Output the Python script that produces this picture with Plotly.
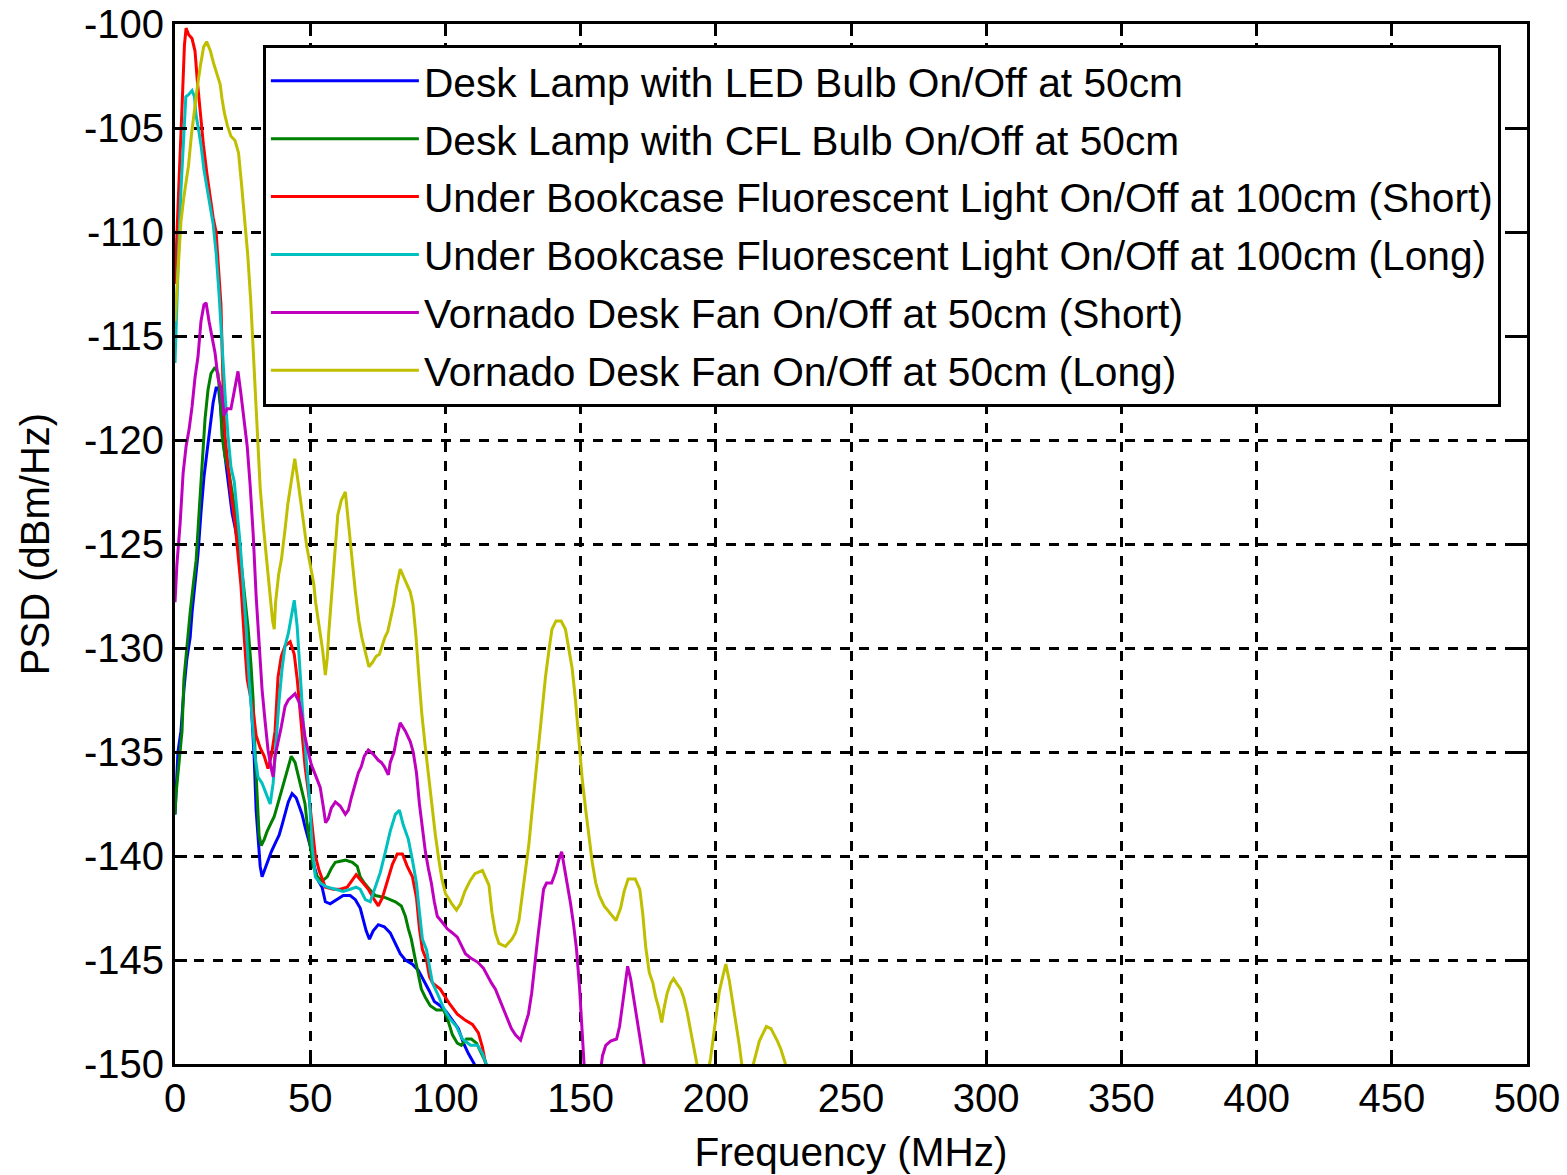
import plotly.graph_objects as go

# ---------------- data (frequency in MHz, PSD in dBm/Hz) ----------------
led_freq = [0, 0.4, 1.1, 2.2, 3.3, 4.4, 5.6, 6.3, 7.4, 8.5, 9.6, 10.7, 11.9, 13.0, 14.1, 15.2, 16.1, 17.0,
            17.8, 18.9, 20.0, 21.1, 22.2, 23.3, 24.8, 26.3, 27.4, 28.5, 29.3, 30.0, 30.7, 31.5, 32.2, 33.0,
            34.1, 35.6, 37.0, 38.5, 39.6, 40.7, 41.9, 43.3, 44.8, 45.9, 47.0, 48.1, 49.3, 50.4, 51.5, 53.0,
            54.4, 55.6, 57.4, 59.6, 62.2, 64.8, 66.7, 68.5, 69.6, 70.7, 71.9, 73.3, 75.2, 77.4, 79.6, 81.5,
            83.3, 85.2, 87.8, 90.0, 92.2, 94.1, 95.9, 98.1, 100.4, 102.6, 104.8, 106.7, 108.5, 110.7, 111.5, 113]
led_psd = [-138, -137, -135, -134, -132, -130.5, -129.5, -128.3, -127, -125.5, -123.5, -121.8, -120.5, -119.3,
           -118.2, -117.5, -117.5, -118.6, -120, -121.2, -122.5, -123.5, -124.2, -125, -127, -128.8, -130.8,
           -133.5, -135.3, -137.8, -139, -140.5, -141, -140.7, -140.3, -139.8, -139.4, -139, -138.5, -138,
           -137.4, -137, -137.2, -137.6, -138, -138.6, -139.2, -139.7, -140.5, -141.2, -141.5, -142.2, -142.3,
           -142.1, -141.9, -141.9, -142.1, -142.5, -143, -143.6, -144, -143.6, -143.3, -143.4, -143.7, -144.2,
           -144.7, -145, -145.2, -145.5, -146, -146.5, -147, -147.2, -147.5, -147.9, -148.3, -149, -149.5,
           -150, -150.5, -152]

cfl_freq = [0, 0.4, 1.5, 2.6, 3.3, 4.4, 5.6, 6.7, 7.8, 8.9, 10, 11.1, 12.2, 13.3, 14.8, 15.9, 16.7, 17.4, 18.5,
            20, 21.5, 22.6, 23.7, 24.8, 25.9, 27, 28.1, 28.9, 29.6, 30.4, 31.1, 31.9, 33, 34.1, 35.6, 36.7,
            37.8, 38.9, 40.4, 41.9, 43, 44.4, 45.9, 47, 48.1, 48.9, 50, 51.1, 52.6, 54.4, 56.3, 57.8, 59.3, 63,
            65.6, 67.4, 68.5, 70, 71.9, 74.1, 77.8, 81.5, 83.7, 85.2, 86.3, 87.4, 88.9, 90, 91.1, 92.6, 94.4,
            96.7, 99.3, 100.7, 102.6, 104.4, 105.9, 107.8, 109.6, 111.5, 113, 114.8, 115.9, 117.5]
cfl_psd = [-138, -137, -135.5, -134, -131.5, -129.8, -128.3, -127, -125.8, -123.5, -121.2, -119, -117.6, -116.8,
           -116.5, -116.8, -118, -119.8, -120.8, -121.6, -122.8, -123.7, -125, -126.3, -127.6, -129, -130.8,
           -132.5, -135, -137.5, -139, -139.5, -139.2, -138.8, -138.4, -138.1, -137.6, -137.1, -136.5, -135.8,
           -135.2, -135.5, -136.3, -137, -137.5, -138.5, -139.5, -140.5, -141, -141.2, -141, -140.6, -140.3,
           -140.2, -140.3, -140.5, -141, -141.3, -141.6, -141.9, -142, -142.2, -142.4, -142.9, -143.5, -144,
           -145, -145.8, -146.4, -146.8, -147.2, -147.4, -147.4, -147.8, -148.6, -149, -149.1, -148.8, -148.8,
           -149, -149.4, -149.9, -150.3, -152]

fluor_short_freq = [0, 0.5, 1.5, 2.6, 3.5, 4.1, 5.0, 6.3, 7.4, 8.3, 9.4, 10.5, 11.8, 13.1, 14.1, 15.2, 16.3, 17.0,
                    17.8, 18.5, 19.6, 20.7, 22.2, 23.3, 24.4, 25.6, 26.7, 28.9, 30.0, 31.5, 33.0, 34.4, 35.6,
                    37.0, 38.1, 39.3, 40.7, 42.6, 44.1, 45.2, 46.7, 48.1, 49.6, 50.7, 51.9, 53.3, 55.6, 58.5,
                    61.1, 63.7, 65.2, 67.0, 69.6, 71.5, 73.7, 75.2, 76.7, 78.5, 80.4, 82.2, 84.1, 85.9, 87.8,
                    89.3, 90.4, 91.5, 93.0, 94.1, 95.2, 98.1, 101.5, 104.4, 107.4, 110.0, 112.2, 113.7, 115.2, 117]
fluor_short_psd = [-112.5, -110.5, -107.5, -104, -101, -100.2, -100.5, -100.7, -101.3, -102.8, -104.5, -105.8,
                   -107.2, -108.4, -109.3, -110, -111.9, -113.5, -117.5, -119.8, -121.2, -122.6, -124, -125.4,
                   -127, -129.5, -131.5, -133, -134.2, -134.8, -135.2, -135.8, -135.2, -134, -131.4, -130.4,
                   -129.9, -129.7, -130.3, -131.5, -133.9, -135.7, -137.2, -138.6, -140, -140.7, -141.5, -141.6,
                   -141.6, -141.5, -141.2, -140.9, -141.3, -141.6, -142.1, -142.4, -142, -141.2, -140.4, -139.9,
                   -139.9, -140.5, -141, -142, -143.5, -144.5, -145, -145.8, -146.1, -146.4, -147.1, -147.6,
                   -147.9, -148.1, -148.5, -149.2, -150.2, -152]

fluor_long_freq = [0, 0.5, 1.3, 2.2, 3.1, 4.0, 5.0, 6.3, 7.2, 7.8, 8.5, 9.6, 10.7, 12.0, 13.3, 14.1, 15.2, 16.3,
                   17.4, 18.5, 19.6, 20.7, 21.9, 23.0, 24.1, 25.2, 26.3, 27.4, 28.5, 29.6, 30.7, 32.2, 33.7,
                   35.2, 36.3, 37.4, 38.5, 39.6, 40.7, 41.9, 43.0, 44.1, 45.2, 46.3, 47.4, 48.5, 49.6, 50.7,
                   51.9, 53.7, 56.3, 59.3, 62.2, 64.8, 67.0, 68.5, 70.4, 72.2, 74.1, 75.9, 77.8, 79.6, 81.5,
                   83.0, 84.4, 86.3, 87.8, 89.3, 90.4, 91.5, 93.0, 94.1, 95.2, 97.0, 99.3, 101.5, 104.1, 106.3,
                   109.3, 111.9, 113.7, 115.9, 117.5]
fluor_long_psd = [-116.3, -114, -111, -108, -105.7, -103.5, -103.4, -103.2, -103.5, -104.4, -104.9, -105.8,
                  -107, -108.1, -109, -109.6, -111, -113, -115.5, -117.8, -119.8, -121.3, -122, -123.5, -125,
                  -127, -129, -131.5, -133.5, -135.2, -136.2, -136.5, -137, -137.5, -136.5, -134.5, -132.5,
                  -131, -129.9, -129.3, -128.4, -127.7, -129, -131.5, -133.5, -135.3, -137, -139.5, -141,
                  -141.3, -141.5, -141.6, -141.7, -141.6, -141.5, -141.6, -142.1, -142.2, -141.5, -140.8,
                  -139.8, -138.8, -138, -137.8, -138.5, -139.2, -140.2, -141.3, -142.7, -144, -144.5, -145.3,
                  -146.1, -146.6, -147.3, -147.8, -148.2, -148.8, -149.1, -149.1, -149.5, -150.3, -152]

fan_short_freq = [0, 0.7, 1.9, 3, 4.1, 5.2, 6.3, 7.4, 8.5, 9.6, 10.7, 11.5, 12.6, 13.7, 14.8, 15.9, 17, 18.1,
                  19.3, 20.7, 21.9, 23.3, 24.4, 25.6, 26.7, 27.8, 28.9, 30, 31.1, 32.2, 33.3, 34.4, 35.6, 36.3,
                  37, 38.1, 39.3, 40.7, 41.9, 44.4, 45.9, 47, 48.1, 49.3, 50.4, 51.9, 53.7, 54.8, 55.7, 56.7,
                  57.8, 59.3, 61.1, 63, 64.1, 65.2, 66.7, 67.8, 68.9, 70, 71.5, 73.3, 75.2, 76.3, 77.4, 78.9,
                  79.6, 81.0, 82.0, 83.3, 85.2, 87, 88.1, 89.3, 90.4, 91.5, 92.6, 93.7, 94.8, 95.9, 97, 98.9,
                  100.7, 102.6, 104.4, 105.9, 107.4, 109.3, 111.9, 114.1, 115.6, 117, 118.5, 120, 121.5, 123,
                  124.4, 125.9, 127.8, 129.3, 130.7, 131.9, 133, 134.1, 135.2, 136.3, 137.4, 139.3, 140.7,
                  141.9, 143, 144.1, 145.2, 146.3, 147.4, 148.5, 149.6, 150.7, 151.5, 153.7, 156.7, 158.1,
                  159.3, 161.1, 163.3, 164.4, 165.6, 166.7, 167.4, 168.5, 169.6, 170.7, 171.9, 173, 174.1, 175.9]
fan_short_psd = [-127.8, -126, -124, -121.6, -120.3, -119.5, -118.4, -117, -116, -114.3, -113.5, -113.4, -114.3,
                 -115, -115.8, -117, -117.5, -118.8, -118.5, -118.5, -117.6, -116.7, -117.8, -119.2, -120.3,
                 -122.2, -124.5, -127.5, -130, -132, -133.5, -134.9, -135.8, -136.2, -135.2, -134.6, -133.8,
                 -132.8, -132.5, -132.2, -132.6, -133.3, -134.3, -135, -135.6, -136.1, -136.7, -137.6, -138.4,
                 -138.2, -137.7, -137.4, -137.6, -138, -137.8, -137.2, -136.5, -136, -135.7, -135.2, -134.9,
                 -135.1, -135.4, -135.5, -135.7, -136.1, -135.5, -135, -134.3, -133.6, -134, -134.5, -135, -136,
                 -137.5, -138.7, -139.8, -140.6, -141.3, -142.2, -142.9, -143.2, -143.5, -143.7, -143.9, -144.3,
                 -144.7, -144.9, -145.1, -145.4, -145.8, -146.1, -146.4, -146.9, -147.4, -147.9, -148.3, -148.6,
                 -148.85, -148.2, -147.6, -146.6, -145.2, -144, -142.8, -141.6, -141.3, -141.3, -140.8, -140.2,
                 -139.8, -140.6, -141.3, -142.3, -143.3, -144.5, -146.3, -148.8, -150.5, -152, -151, -149.6,
                 -149.1, -148.9, -148.8, -148.2, -147, -145.8, -145.3, -145.9, -146.8, -147.6, -148.5, -149.5,
                 -150.5, -152]

fan_long_freq = [0, 1.1, 2.2, 3.3, 4.1, 5.0, 6.1, 7.2, 8.3, 9.4, 10.6, 11.7, 13.1, 14.3, 15.4, 16.7, 17.4, 18.3,
                 19.4, 20.7, 22.2, 23.5, 24.6, 25.7, 26.9, 28.0, 29.1, 30.2, 31.5, 32.8, 33.9, 35.2, 36.1, 36.7,
                 37.2, 38.3, 39.4, 40.7, 41.7, 43.0, 44.3, 45.4, 46.7, 48.0, 48.7, 50.0, 51.3, 52.0, 53.3, 54.6,
                 55.6, 56.3, 56.9, 58.0, 59.3, 60.2, 61.5, 63.0, 64.3, 65.4, 66.7, 68.0, 69.1, 70.4, 71.7, 73.0,
                 74.4, 75.6, 76.5, 77.6, 78.7, 79.8, 80.9, 82.0, 83.3, 84.6, 85.7, 87.0, 88.0, 89.1, 90.2, 91.3,
                 92.6, 93.9, 95.0, 96.3, 97.6, 98.7, 100.0, 101.3, 102.4, 104.1, 105.6, 107.2, 109.1, 110.9,
                 113.7, 116.1, 117.2, 118.5, 119.8, 122.2, 124.6, 125.9, 127.2, 128.3, 129.6, 130.9, 132.0,
                 133.3, 134.6, 135.7, 137.0, 138.3, 139.4, 140.9, 142.8, 144.4, 145.7, 146.9, 148.1, 149.4,
                 150.6, 151.9, 153.1, 154.3, 155.6, 156.9, 158.7, 161.1, 163.1, 164.8, 166.1, 167.6, 170.2,
                 171.9, 173.0, 174.1, 175.4, 176.7, 177.8, 178.9, 180.0, 180.9, 182.0, 183.3, 184.4, 185.9,
                 187.0, 188.1, 189.4, 190.7, 192.0, 193.3, 195.2, 197.0, 198.1, 198.9, 200.0, 201.3, 202.4,
                 203.7, 205.0, 206.1, 207.4, 208.7, 209.8, 211.5, 213.3, 214.8, 216.1, 217.2, 218.7, 220.4,
                 221.7, 222.8, 224.1, 225.4, 226.7, 228.5]
fan_long_psd = [-114.3, -112, -109.5, -108.3, -107.5, -106.8, -105.3, -104, -103, -102, -101.1, -100.85, -101.3,
                -101.9, -102.4, -102.9, -103.6, -104.3, -104.9, -105.4, -105.6, -106.2, -107.7, -109.4, -111.1,
                -113.3, -116.2, -119.5, -122.3, -124.3, -125.8, -127.4, -128.7, -129.1, -127.8, -126.5, -125.7,
                -124.3, -123.1, -122, -120.9, -121.9, -123.1, -124.2, -125.1, -126, -126.9, -127.8, -129, -130.1,
                -131.3, -130.5, -129.2, -127.3, -125.3, -123.6, -122.9, -122.5, -124.2, -125.8, -127.3, -128.7,
                -129.5, -130.2, -130.9, -130.7, -130.4, -130.3, -129.9, -129.5, -129.2, -128.6, -127.9, -127,
                -126.2, -126.6, -126.9, -127.3, -127.9, -129.4, -131.4, -133.2, -134.8, -136.3, -137.8, -139,
                -140.2, -141.1, -141.8, -142.1, -142.3, -142.6, -142.3, -141.7, -141.2, -140.85, -140.7, -141.4,
                -142.7, -143.7, -144.2, -144.35, -144, -143.7, -143.1, -142, -140.8, -139.4, -137.9, -136.2,
                -134.4, -132.8, -131.4, -130.1, -129.1, -128.7, -128.7, -129.1, -130, -131, -132.5, -134.5,
                -136.3, -137.8, -139, -140.3, -141.3, -141.9, -142.4, -142.8, -143.1, -142.5, -141.7, -141.1,
                -141.1, -141.6, -142.8, -144.4, -145.6, -146.1, -146.8, -147.3, -148, -147.3, -146.6, -146.1,
                -145.9, -146.2, -146.4, -146.8, -147.5, -148.4, -149.3, -150.3, -151.5, -150.5, -149.7, -148.9,
                -147.7, -146.5, -145.9, -145.2, -146, -146.9, -148, -149.1, -150.2, -151.5, -150.3, -149.5,
                -148.9, -148.6, -148.2, -148.3, -148.6, -148.9, -149.3, -149.8, -150.4, -152]

series_names = [
    "Desk Lamp with LED Bulb On/Off at 50cm",
    "Desk Lamp with CFL Bulb On/Off at 50cm",
    "Under Bookcase Fluorescent Light On/Off at 100cm (Short)",
    "Under Bookcase Fluorescent Light On/Off at 100cm (Long)",
    "Vornado Desk Fan On/Off at 50cm (Short)",
    "Vornado Desk Fan On/Off at 50cm (Long)",
]
series_colors = ["#0000FF", "#008000", "#FF0000", "#00BFBF", "#BF00BF", "#BFBF00"]

x_tick_vals = [0, 50, 100, 150, 200, 250, 300, 350, 400, 450, 500]
y_tick_vals = [-100, -105, -110, -115, -120, -125, -130, -135, -140, -145, -150]
y_tick_text = ["-100", "-105", "-110", "-115", "-120", "-125", "-130", "-135", "-140", "-145", "-150"]

# ---------------- figure ----------------
series_data = [
    (led_freq, led_psd),
    (cfl_freq, cfl_psd),
    (fluor_short_freq, fluor_short_psd),
    (fluor_long_freq, fluor_long_psd),
    (fan_short_freq, fan_short_psd),
    (fan_long_freq, fan_long_psd),
]

FONT = "Arial, Liberation Sans, sans-serif"

fig = go.Figure()
for i, ((fx, fy), name, color) in enumerate(zip(series_data, series_names, series_colors)):
    n = min(len(fx), len(fy))
    fig.add_trace(go.Scatter(
        x=fx[:n], y=fy[:n], mode="lines", name=name, legendgroup=f"g{i}",
        line=dict(color=color, width=3),
    ))

axis_common = dict(
    showline=True, linecolor="black", linewidth=3, mirror="ticks",
    ticks="inside", ticklen=12, tickwidth=3, tickcolor="black",
    showgrid=True, gridcolor="black", gridwidth=3, griddash="10px,9px",
    zeroline=False, ticklabeloverflow="allow",
    tickfont=dict(family=FONT, size=40, color="black"),
)

fig.update_xaxes(
    range=[0, 500], tickvals=x_tick_vals, ticklabelstandoff=-3,
    title=dict(text="Frequency (MHz)", font=dict(family=FONT, size=40.5, color="black"), standoff=25),
    **axis_common,
)
fig.update_yaxes(
    range=[-150, -100], tickvals=y_tick_vals, ticktext=y_tick_text, ticklabelstandoff=0,
    title=dict(text="PSD (dBm/Hz)", font=dict(family=FONT, size=40, color="black"), standoff=22),
    **axis_common,
)

fig.update_layout(
    width=1567, height=1175,
    margin=dict(l=175, r=40, t=24, b=111, autoexpand=False),
    paper_bgcolor="white", plot_bgcolor="white",
    font=dict(family=FONT, color="black"),
    showlegend=True,
    legend=dict(
        x=0.065, y=0.98, xanchor="left", yanchor="top",
        bgcolor="white", bordercolor="black", borderwidth=3,
        font=dict(family=FONT, size=40.7, color="black"),
        itemwidth=148, tracegroupgap=2,
    ),
)

# remove the browser's default 8px page margin so the figure fills the window exactly
fig.write_html(
    "out.html",
    config={"displayModeBar": False},
    post_script="document.body.style.margin='0';document.body.style.overflow='hidden';",
)
